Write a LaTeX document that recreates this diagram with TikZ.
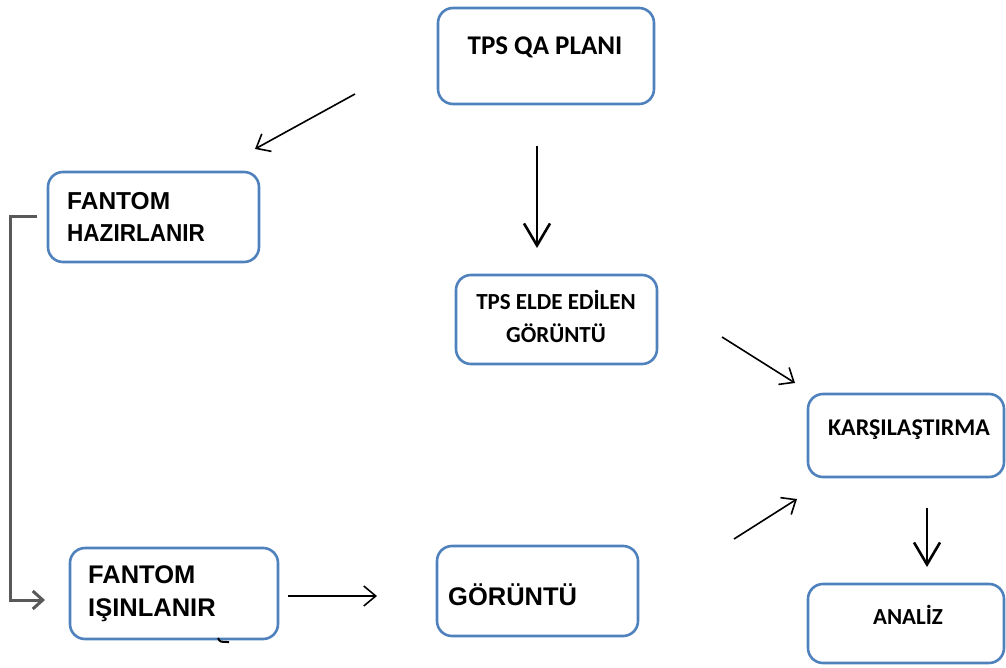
\documentclass[tikz,border=0pt]{standalone}
\usepackage{fontspec}
\setmainfont{Liberation Sans}
\newfontfamily\calfont{Carlito}
\newfontfamily\arifont{Liberation Sans}
\usetikzlibrary{arrows.meta}
\definecolor{boxblue}{HTML}{4F81BD}
\definecolor{elbowgray}{HTML}{595959}
\tikzset{
  boxnode/.style={draw=boxblue, line width=2.6pt, rounded corners=15pt, fill=white, inner sep=0pt, anchor=center},
  calt/.style={font=\calfont\bfseries\fontsize{23}{27}\selectfont, inner sep=0pt, text=black},
  arit/.style={font=\arifont\bfseries\fontsize{24.5}{29}\selectfont, inner sep=0pt, text=black, anchor=base west},
  aribig/.style={arit, font=\arifont\bfseries\fontsize{25.5}{30}\selectfont},
  thinarrow/.style={draw=black, line width=1.6pt, -{Straight Barb[length=12pt,width=20pt,line width=1.6pt]}},
  thickarrow/.style={draw=black, line width=2.6pt, -{Straight Barb[length=22pt,width=26pt,line width=2.6pt]}},
  elbow/.style={draw=elbowgray, line width=3pt, -{Straight Barb[length=10pt,width=18pt,line width=3pt]}}
}
\begin{document}
\begin{tikzpicture}[x=1pt,y=-1pt]
\useasboundingbox (0,0) rectangle (1006,668);
% boxes
\node[boxnode, minimum width=216pt, minimum height=96pt] (qa) at (546,56) {};
\node[boxnode, minimum width=211pt, minimum height=90pt] (haz) at (153.5,217) {};
\node[boxnode, minimum width=201pt, minimum height=89pt] (tps) at (556.5,319.5) {};
\node[boxnode, minimum width=196pt, minimum height=83pt] (kar) at (906,435.5) {};
\node[boxnode, minimum width=196pt, minimum height=79pt] (ana) at (906,623.5) {};
\node[boxnode, minimum width=208pt, minimum height=91pt] (isin) at (174,593.5) {};
\node[boxnode, minimum width=201pt, minimum height=90pt] (gor) at (537.5,591) {};
% texts
\node[calt, anchor=base, font=\calfont\bfseries\fontsize{27}{31}\selectfont] (tqa) at (545,55) {TPS QA PLANI};
\node[arit] (th1) at (67,210) {FANTOM};
\node[arit] (th2) at (67,242) {\scalebox{0.92}[1]{HAZIRLANIR}};
\node[calt, anchor=base] (tt1) at (556,309) {TPS ELDE EDİLEN};
\node[calt, anchor=base] (tt2) at (556,342) {GÖRÜNTÜ};
\node[calt, anchor=base, font=\calfont\bfseries\fontsize{24}{28}\selectfont] (tk) at (909,435) {KARŞILAŞTIRMA};
\node[calt, anchor=base] (ta) at (908,624) {ANALİZ};
\node[aribig] (ti1) at (88,583) {FANTOM};
\node[aribig] (ti2) at (88,616) {IŞINLANIR};
\node[aribig] (tg) at (448,605) {GÖRÜNTÜ};
% connector end points
\coordinate (a1s) at (355,94);  \coordinate (a1e) at (255,149);
\coordinate (a2s) at (537,146); \coordinate (a2e) at (537,248);
\coordinate (a3s) at (722,337); \coordinate (a3e) at (795,383);
\coordinate (a4s) at (734,539); \coordinate (a4e) at (797,499);
\coordinate (a5s) at (927,508); \coordinate (a5e) at (927,567);
\coordinate (a6s) at (288,596); \coordinate (a6e) at (377,596);
\coordinate (e0) at (37,217); \coordinate (e1) at (10,217);
\coordinate (e2) at (10,600); \coordinate (e3) at (45,600);
% connectors
\draw[thinarrow] (a1s) -- (a1e);
\draw[thickarrow] (a2s) -- (a2e);
\draw[thinarrow] (a3s) -- (a3e);
\draw[thinarrow] (a4s) -- (a4e);
\draw[thickarrow] (a5s) -- (a5e);
\draw[thinarrow] (a6s) -- (a6e);
\draw[elbow] (e0) -- (e1) -- (e2) -- (e3);
% small stray stroke below the box
\draw[black, line width=2pt] (218,638) .. controls (220,642) .. (229,642);
\end{tikzpicture}
\end{document}
